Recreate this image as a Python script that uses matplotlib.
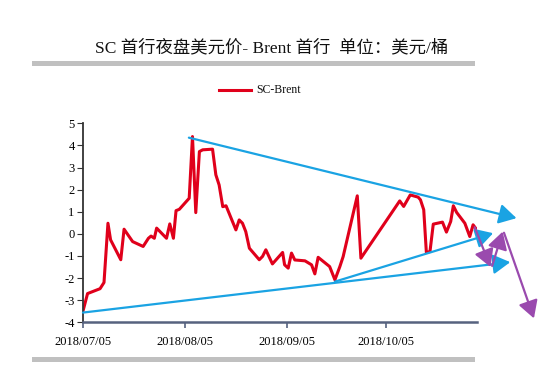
import matplotlib
matplotlib.use("Agg")
import matplotlib.pyplot as plt
from matplotlib.lines import Line2D

# ---- data (x = days since 2018-07-05) ----
days = [0, 1.4, 5.2, 6.4, 7.6, 8.4, 11.5, 12.5, 15.1, 18.3, 19.9, 20.7, 21.7, 22.4,
        25.4, 26.4, 27.5, 28.3, 29.3, 32.3, 33.3, 34.3, 35.4, 36.4, 39.4, 40.4, 41.4,
        42.5, 43.5, 46.5, 47.5, 48.5, 49.5, 50.6, 53.6, 54.6, 55.6, 57.6, 60.7, 61.3,
        62.4, 63.4, 64.4, 67.5, 69.5, 70.5, 71.5, 75.0, 76.6, 78.1, 79.1, 83.4, 84.5,
        96.3, 97.5, 99.5, 101.9, 102.6, 103.6, 104.4, 105.5, 106.5, 109.3, 110.5,
        111.8, 112.6, 113.6, 116.1, 117.6, 118.6, 119.6]
sc_brent = [-3.5, -2.7, -2.48, -2.2, 0.48, -0.27, -1.17, 0.21, -0.35, -0.57, -0.2, -0.1,
            -0.2, 0.26, -0.2, 0.45, -0.2, 1.05, 1.11, 1.61, 4.4, 0.96, 3.72, 3.8, 3.83,
            2.67, 2.21, 1.23, 1.27, 0.18, 0.63, 0.48, 0.1, -0.65, -1.17, -1.02, -0.72,
            -1.36, -0.84, -1.4, -1.55, -0.87, -1.18, -1.22, -1.4, -1.81, -1.06, -1.48,
            -2.08, -1.48, -1.03, 1.72, -1.1, 1.49, 1.24, 1.76, 1.66, 1.54, 1.09, -0.84,
            -0.8, 0.44, 0.53, 0.08, 0.56, 1.27, 0.97, 0.48, -0.12, 0.41, 0.21]

tick_days = [0, 31, 62, 92]
tick_labels = ["2018/07/05", "2018/08/05", "2018/09/05", "2018/10/05"]
y_ticks = [-4, -3, -2, -1, 0, 1, 2, 3, 4, 5]

# trend arrows: (start_day, start_val, end_day, end_val)
blue_arrows = [(32.2, 4.35, 131.8, 0.71),
               (0.0, -3.56, 129.9, -1.28),
               (76.6, -2.16, 124.7, 0.03)]
purple_arrows = [(119.1, 0.3, 123.9, -1.5),
                 (124.4, -1.45, 127.6, 0.1),
                 (128.0, 0.05, 137.1, -3.82)]

title = "SC 首行夜盘美元价- Brent 首行  单位：美元/桶"
series_name = "SC-Brent"

serif = ["Liberation Serif", "Noto Sans CJK SC"]

fig = plt.figure(figsize=(5.53, 3.86), dpi=100)
ax = fig.add_axes([0.150, 0.165, 0.7126, 0.5156])

red = "#E0001B"
ax.plot(days, sc_brent, color=red, lw=2.2, solid_joinstyle="round")

style = "-|>,head_length=0.7,head_width=0.4"
for x0, y0, x1, y1 in blue_arrows:
    ax.annotate("", xy=(x1, y1), xytext=(x0, y0), annotation_clip=False,
                arrowprops=dict(arrowstyle=style, color="#1AA3E3", lw=1.6,
                                mutation_scale=15, shrinkA=0, shrinkB=0))
for x0, y0, x1, y1 in purple_arrows:
    ax.annotate("", xy=(x1, y1), xytext=(x0, y0), annotation_clip=False,
                arrowprops=dict(arrowstyle=style, color="#9A4AAE", lw=1.6,
                                mutation_scale=15, shrinkA=0, shrinkB=0))

ax.set_xlim(0, 119.8)
ax.set_ylim(-4, 5)
ax.set_xticks(tick_days)
ax.set_xticklabels(tick_labels, fontfamily=serif, fontsize=9)
ax.set_yticks(y_ticks)
ax.set_yticklabels([str(v) for v in y_ticks], fontfamily=serif, fontsize=9)

for s in ["top", "right"]:
    ax.spines[s].set_visible(False)
ax.spines["left"].set_color("#333333")
ax.spines["left"].set_linewidth(1.3)
ax.spines["bottom"].set_color("#56627F")
ax.spines["bottom"].set_linewidth(1.8)
ax.tick_params(axis="y", direction="out", length=4, color="#333333", pad=2)
ax.tick_params(axis="x", direction="out", length=4, color="#56627F", width=1.2, pad=6)

# title
fig.text(0.492, 1 - 48 / 386, title, ha="center", va="center",
         fontfamily=serif, fontsize=12.5, color="#111111")
# gray rules
fig.add_artist(Line2D([34 / 553, 472 / 553], [1 - 63 / 386] * 2, color="#C0C0C0", lw=3.6))
fig.add_artist(Line2D([34 / 553, 472 / 553], [1 - 359 / 386] * 2, color="#C0C0C0", lw=3.6))

# legend
fig.add_artist(Line2D([219 / 553, 251 / 553], [1 - 90 / 386] * 2, color=red, lw=2.2))
fig.text(256 / 553, 1 - 90 / 386, series_name, ha="left", va="center",
         fontfamily=serif, fontsize=8.5, color="#111111")

fig.savefig("out.png", dpi=100)
